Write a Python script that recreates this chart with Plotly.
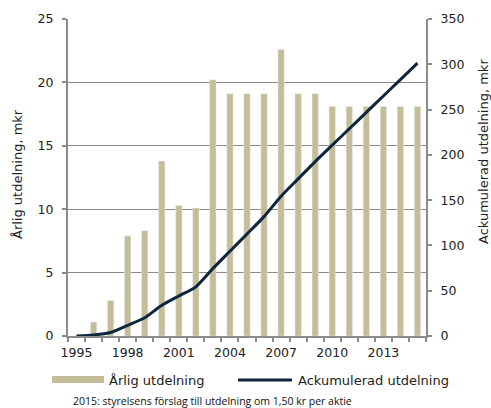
import plotly.graph_objects as go

years = list(range(1995, 2016))
annual = [0, 1.1, 2.8, 7.9, 8.3, 13.8, 10.3, 10.1, 20.2, 19.1, 19.1, 19.1, 22.6,
          19.1, 19.1, 18.1, 18.1, 18.1, 18.1, 18.1, 18.1]
cumulative = [0, 1.1, 3.9, 11.8, 20.1, 33.9, 44.2, 54.3, 74.5, 93.6, 112.7, 131.8,
              154.4, 173.5, 192.6, 210.7, 228.8, 246.9, 265.0, 283.1, 301.2]
xtick_years = [1995, 1998, 2001, 2004, 2007, 2010, 2013]
left_ticks = [0, 5, 10, 15, 20, 25]
right_ticks = [0, 50, 100, 150, 200, 250, 300, 350]

BAR = "#c4bd97"
LINE = "#0f243e"
GRID = "#8a8a8a"
FONT = "DejaVu Sans"

W, H = 491, 408
L, R, T, B = 68, 426, 19, 336

def px(x):
    return (x - L) / (R - L)

def py(y):
    return (B - y) / (B - T)

fig = go.Figure()
fig.add_trace(go.Bar(x=years, y=annual, marker_color=BAR, width=0.37,
                     name="Årlig utdelning", showlegend=False))
fig.add_trace(go.Scatter(x=years, y=cumulative, yaxis="y2", mode="lines",
                         line=dict(color=LINE, width=3, shape="spline", smoothing=0.6),
                         name="Ackumulerad utdelning", showlegend=False))

tickfont = dict(family=FONT, size=12.5, color="#222222")
textfont = dict(family=FONT, size=13, color="#222222")

fig.update_layout(
    width=W, height=H,
    margin=dict(l=L, r=W - R, t=T, b=H - B, autoexpand=False),
    paper_bgcolor="white", plot_bgcolor="white",
    xaxis=dict(range=[1994.5, 2015.5], tickmode="array", tickvals=xtick_years,
               ticktext=[str(y) for y in xtick_years], ticks="", tickfont=tickfont,
               showline=True, linecolor=GRID, linewidth=2, showgrid=False,
               zeroline=False, ticklabelstandoff=4,
               minor=dict(tickmode="linear", tick0=1994.5, dtick=1, ticks="outside",
                          ticklen=4, tickcolor=GRID, tickwidth=1.5, showgrid=False)),
    yaxis=dict(range=[0, 25], tickvals=left_ticks, ticks="outside", ticklen=4,
               tickcolor=GRID, tickwidth=1.5, tickfont=tickfont, showline=True,
               linecolor=GRID, linewidth=2, showgrid=True, gridcolor=GRID,
               gridwidth=1.2, zeroline=False, ticklabelstandoff=6),
    yaxis2=dict(range=[0, 350], tickvals=right_ticks, overlaying="y", side="right",
                ticks="outside", ticklen=4, tickcolor=GRID, tickwidth=1.5,
                tickfont=tickfont, showline=True, linecolor=GRID, linewidth=2,
                showgrid=False, zeroline=False, ticklabelstandoff=6),
    bargap=0.6,
)

annotations = [
    dict(x=px(17), y=py(174), text="Årlig utdelning, mkr", textangle=-90,
         showarrow=False, font=textfont, xanchor="center", yanchor="middle"),
    dict(x=px(484), y=py(152), text="Ackumulerad utdelning, mkr", textangle=-90,
         showarrow=False, font=textfont, xanchor="center", yanchor="middle"),
    dict(x=px(107), y=py(380), text="Årlig utdelning", showarrow=False,
         font=textfont, xanchor="left", yanchor="middle"),
    dict(x=px(296), y=py(380), text="Ackumulerad utdelning", showarrow=False,
         font=textfont, xanchor="left", yanchor="middle"),
    dict(x=px(71), y=py(401), text="2015: styrelsens förslag till utdelning om 1,50 kr per aktie",
         showarrow=False, font=dict(family="Open Sans", size=10.5, color="#111111"),
         xanchor="left", yanchor="middle"),
]
for a in annotations:
    a["xref"] = "paper"
    a["yref"] = "paper"
fig.update_layout(annotations=annotations)

fig.add_shape(type="rect", xref="paper", yref="paper",
              x0=px(52), x1=px(104), y0=py(383), y1=py(376),
              fillcolor=BAR, line=dict(width=0))
fig.add_shape(type="line", xref="paper", yref="paper",
              x0=px(238), x1=px(292), y0=py(380), y1=py(380),
              line=dict(color=LINE, width=3))

fig.write_html("out.html", config={"displayModeBar": False},
               post_script="document.body.style.margin='0';document.body.style.overflow='hidden';")
